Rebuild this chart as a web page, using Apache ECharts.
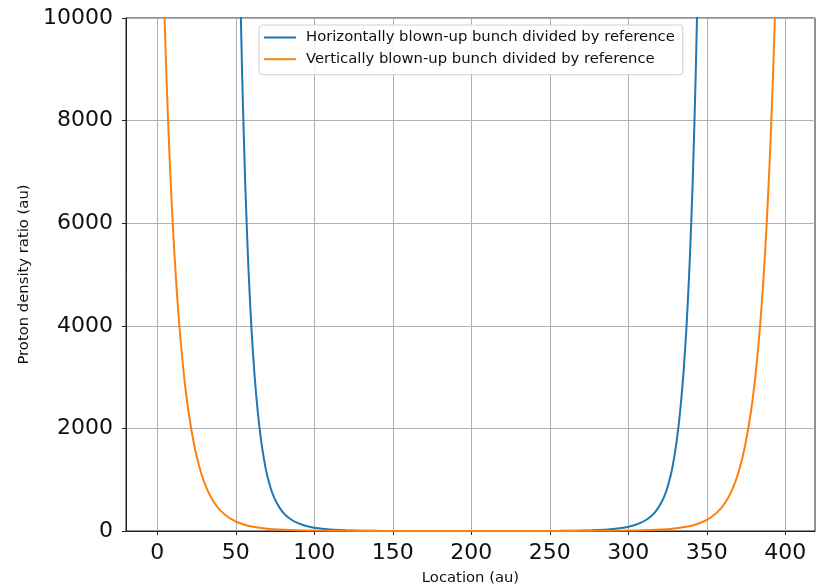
<!DOCTYPE html>
<html>
<head>
<meta charset="utf-8">
<script src="https://cdn.jsdelivr.net/npm/echarts@6/dist/echarts.min.js"></script>
<style>html,body{margin:0;padding:0;background:#fff}#c{width:816px;height:587px}</style>
</head>
<body>
<div id="c"></div>
<script>
const xTicks = [0, 50, 100, 150, 200, 250, 300, 350, 400];
const yTicks = [0, 2000, 4000, 6000, 8000, 10000];
const seriesNames = ['Horizontally blown-up bunch divided by reference', 'Vertically blown-up bunch divided by reference'];

const blueX = [50,52,54,56,58,60,62,64,66,68,70,73,76,80,85,90,95,100,110,120,130,140,160,180,198,217,237,257,267,277,287,297,302,307,312,317,321,324,327,329,331,333,335,337,339,341,343,345,347];
const blueY = [15760,11850,8940,6770,5150,3930,3010,2320,1790,1390,1080,760,550,365,228,148,96,63,28,13.5,6.6,3.3,1,0.45,0.35,0.45,1,3.3,6.6,13.5,28,63,96,148,228,365,550,760,1080,1390,1790,2320,3010,3930,5150,6770,8940,11850,15760];

const orangeX = [0,2,4,6,8,10,12,14,17,20,24,28,32,36,40,45,50,55,60,70,80,90,100,120,150,199,248,278,298,308,318,328,338,343,348,353,358,362,366,370,374,378,381,384,386,388,390,392,394,396,398];
const orangeY = [15900,12980,10620,8700,7150,5890,4860,4010,3030,2300,1600,1120,793,565,407,272,185,127,88,44,24,13,7.7,3.1,1.2,0.63,1.2,3.1,7.7,13,24,44,88,127,185,272,407,565,793,1120,1600,2300,3030,4010,4860,5890,7150,8700,10620,12980,15900];

const pairs = (xs, ys) => xs.map((x, i) => [x, ys[i]]);

const chart = echarts.init(document.getElementById('c'), null, {renderer: 'canvas'});
const font = 'DejaVu Sans';
const lineIcon = 'path://M0,0L32,0L32,2L0,2Z';
chart.setOption({
  animation: false,
  backgroundColor: '#fff',
  grid: {left: 126, right: 1, top: 18, bottom: 56, show: true, borderColor: '#222', borderWidth: 1, backgroundColor: 'transparent', containLabel: false, outerBoundsMode: 'none'},
  legend: {
    orient: 'vertical', left: 259, top: 25,
    itemWidth: 32, itemHeight: 15, itemGap: 6.7,
    symbolKeepAspect: true,
    padding: [5, 8, 8, 5],
    backgroundColor: 'rgba(255,255,255,0.85)', borderColor: '#d0d0d0', borderWidth: 1, borderRadius: 3,
    textStyle: {fontFamily: font, fontSize: 14.8, color: '#111', padding: [0, 0, 0, 5]},
    data: seriesNames.map(n => ({name: n, icon: lineIcon}))
  },
  xAxis: {
    type: 'value', min: -19.95, max: 418.95,
    name: 'Location (au)', nameLocation: 'middle', nameGap: 40,
    nameTextStyle: {fontFamily: font, fontSize: 14.8, color: '#111'},
    axisLine: {show: true, onZero: false, lineStyle: {color: '#222', width: 1}},
    axisTick: {show: true, inside: false, length: 4, customValues: xTicks, lineStyle: {color: '#222'}},
    axisLabel: {customValues: xTicks, fontFamily: font, fontSize: 22, color: '#111', margin: 11, formatter: v => String(v)},
    splitLine: {show: true, lineStyle: {color: '#b0b0b0', width: 1}}
  },
  yAxis: {
    type: 'value', min: 0, max: 10000, interval: 2000,
    name: 'Proton density ratio (au)', nameLocation: 'middle', nameGap: 83,
    nameTextStyle: {fontFamily: font, fontSize: 14.8, color: '#111'},
    axisLine: {show: true, onZero: false, lineStyle: {color: '#222', width: 1}},
    axisTick: {show: true, inside: false, length: 4, lineStyle: {color: '#222'}},
    axisLabel: {fontFamily: font, fontSize: 22, color: '#111', margin: 13, showMaxLabel: true, showMinLabel: true, formatter: v => String(v)},
    splitLine: {show: true, lineStyle: {color: '#b0b0b0', width: 1}}
  },
  series: [
    {name: seriesNames[0], type: 'line', data: pairs(blueX, blueY), showSymbol: false, symbol: 'none', clip: true,
     smooth: 0.25,
     lineStyle: {color: '#1f77b4', width: 2}, itemStyle: {color: '#1f77b4'}},
    {name: seriesNames[1], type: 'line', data: pairs(orangeX, orangeY), showSymbol: false, symbol: 'none', clip: true,
     smooth: 0.25,
     lineStyle: {color: '#ff7f0e', width: 2}, itemStyle: {color: '#ff7f0e'}}
  ]
});
</script>
</body>
</html>
